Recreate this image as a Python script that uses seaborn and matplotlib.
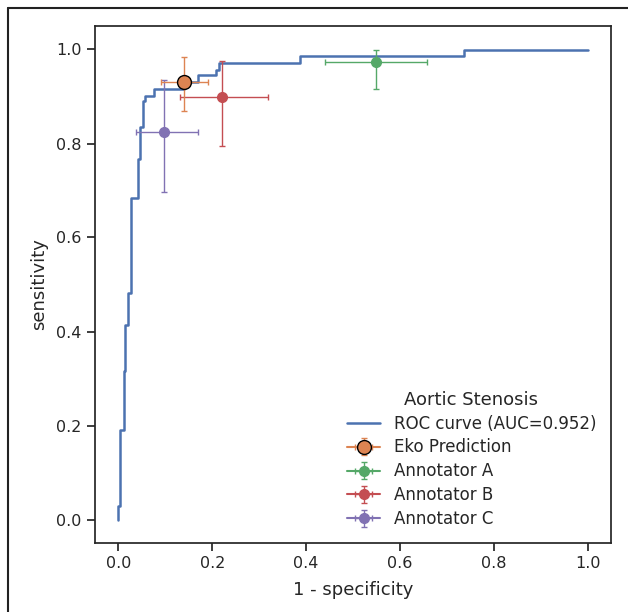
import numpy as np
import pandas as pd
import matplotlib
matplotlib.use('Agg')
import matplotlib.pyplot as plt
from matplotlib.lines import Line2D
import seaborn as sns

# ROC curve corners
fpr = [0, 0, 0.004, 0.004, 0.011, 0.011, 0.015, 0.015, 0.020, 0.020, 0.027, 0.027,
       0.041, 0.041, 0.046, 0.046, 0.052, 0.052, 0.057, 0.057, 0.075, 0.075,
       0.140, 0.140, 0.169, 0.169, 0.209, 0.209, 0.215, 0.215, 0.387, 0.387,
       0.736, 0.736, 1.0]
tpr = [0, 0.028, 0.028, 0.190, 0.190, 0.315, 0.315, 0.413, 0.413, 0.481, 0.481, 0.684,
       0.684, 0.766, 0.766, 0.836, 0.836, 0.890, 0.890, 0.902, 0.902, 0.917,
       0.917, 0.930, 0.930, 0.945, 0.945, 0.957, 0.957, 0.972, 0.972, 0.987,
       0.987, 1.0, 1.0]
auc = 0.952

# operating points: (1 - specificity, sensitivity) with asymmetric errors
names = ['Eko Prediction', 'Annotator A', 'Annotator B', 'Annotator C']
pt_x = [0.140, 0.548, 0.220, 0.098]
pt_y = [0.931, 0.974, 0.899, 0.825]
x_lo = [0.049, 0.108, 0.089, 0.060]
x_hi = [0.050, 0.110, 0.098, 0.071]
y_lo = [0.062, 0.058, 0.105, 0.129]
y_hi = [0.053, 0.025, 0.077, 0.110]

sns.set_theme(style='ticks', palette='deep')
pal = sns.color_palette('deep')

fig = plt.figure(figsize=(6.28, 6.12), dpi=100)
ax = fig.add_axes([95 / 628, 69 / 612, 516 / 628, 517 / 612])

roc = pd.DataFrame({'fpr': fpr, 'tpr': tpr})
sns.lineplot(data=roc, x='fpr', y='tpr', sort=False, estimator=None, ax=ax,
             color=pal[0], lw=1.8, label=f'ROC curve (AUC={auc})')

for i, name in enumerate(names):
    c = pal[i + 1]
    if i == 0:
        kw = dict(ms=10, mec='black', mew=1.0, zorder=5)
    else:
        kw = dict(ms=7, mec=c, zorder=4)
    ax.errorbar(pt_x[i], pt_y[i],
                xerr=[[x_lo[i]], [x_hi[i]]], yerr=[[y_lo[i]], [y_hi[i]]],
                fmt='-o', color=c, ecolor=c, elinewidth=1, capsize=2,
                label=name, **kw)

ax.set_xlim(-0.05, 1.05)
ax.set_ylim(-0.05, 1.05)
ax.set_xlabel('1 - specificity', fontsize=13, labelpad=7)
ax.set_ylabel('sensitivity', fontsize=13, labelpad=6)
ax.tick_params(labelsize=11.5)

ax.legend(title='Aortic Stenosis', loc='lower right', frameon=False,
          fontsize=12, title_fontsize=13, labelspacing=0.35)

# frame of the cropped screenshot
fig.add_artist(Line2D([8 / 628, 8 / 628], [0, 1 - 8 / 612], color='#222222', lw=1.5))
fig.add_artist(Line2D([8 / 628, 1], [1 - 8 / 612, 1 - 8 / 612], color='#222222', lw=1.5))

fig.savefig('out.png', dpi=100)
